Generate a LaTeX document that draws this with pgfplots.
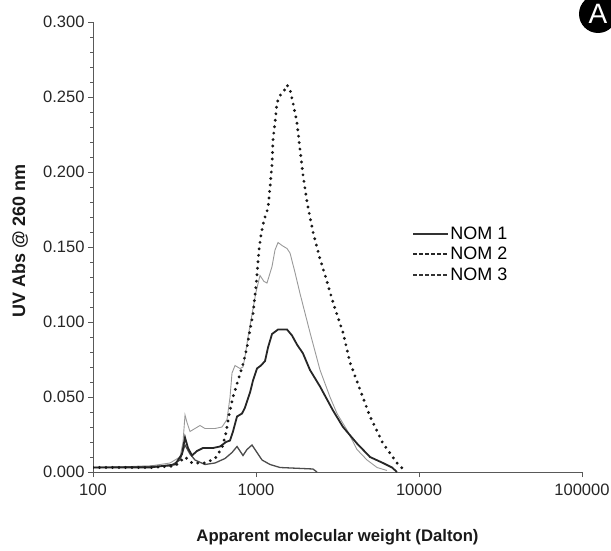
\documentclass[border=0pt]{standalone}
\usepackage{fontspec}
\setmainfont{Liberation Sans}
\usepackage{pgfplots}
\pgfplotsset{compat=1.18}
\begin{document}
\begin{tikzpicture}[x=1pt,y=1pt]
\path[use as bounding box] (0,0) rectangle (611,550);
\begin{axis}[
  at={(93pt,78pt)}, anchor=south west, scale only axis,
  width=489pt, height=450pt,
  xmode=log, xmin=100, xmax=100000, ymin=0, ymax=0.3,
  axis x line=bottom, axis y line=left,
  axis line style={black!65, line width=0.9pt, -},
  xtick={100,1000,10000,100000}, xticklabels={100,1000,10000,100000},
  xminorticks=false,
  ytick={0,0.05,0.1,0.15,0.2,0.25,0.3},
  minor y tick num=4,
  scaled y ticks=false,
  yticklabel style={/pgf/number format/.cd, fixed, fixed zerofill, precision=3},
  xticklabel style={yshift=-3pt},
  /pgf/number format/assume math mode=true,
  tick align=outside, major tick length=5pt, minor tick length=3pt,
  tick style={black!65, line width=0.8pt},
  ticklabel style={font=\fontsize{16.5}{19}\selectfont, text=black!85},
  legend style={at={(0.653,0.548)}, anchor=north west, draw=none, fill=none,
    font=\fontsize{18}{21}\selectfont, row sep=4.5pt, inner sep=0pt,
    nodes={inner sep=1pt}},
  legend cell align=left,
  legend image code/.code={\draw[#1] (0pt,0pt) -- (35pt,0pt);},
]
\addlegendimage{black!80, line width=1.8pt}
\addlegendentry{NOM 1}
\addlegendimage{black!85, line width=1.9pt, dash pattern=on 3.5pt off 2.5pt}
\addlegendentry{NOM 2}
\addlegendimage{black!80, line width=1.6pt, dash pattern=on 4pt off 2pt}
\addlegendentry{NOM 3}
% gray curve
\addplot[forget plot, black!40, line width=0.9pt] coordinates {
(100,0.003) (223.7,0.004) (296.8,0.006) (341.9,0.010) (356.7,0.020) (366.9,0.038)
(377.3,0.033) (393.6,0.027) (422.4,0.029) (453.3,0.031) (486.6,0.029) (560.5,0.029)
(618.6,0.030) (664,0.035) (692.9,0.050) (712.6,0.066) (743.6,0.071) (798,0.069)
(832.4,0.070) (856.4,0.077) (892.9,0.090) (945,0.105) (1000,0.120) (1058,0.131)
(1120,0.127) (1168,0.126) (1254,0.137) (1308,0.148) (1365,0.153) (1444,0.151)
(1550,0.149) (1617,0.146) (1735,0.133) (1862,0.119) (1998,0.106) (2144,0.093)
(2470,0.068) (2844,0.050) (3140,0.039) (3616,0.028) (4165,0.015) (4797,0.008)
(5525,0.003) (6363,0.001)
};
% small curve
\addplot[forget plot, black!70, line width=1.3pt] coordinates {
(100,0.003) (296.8,0.004) (341.9,0.008) (366.9,0.018) (393.6,0.012) (422.4,0.008)
(486.6,0.005) (560.5,0.006) (645.6,0.009) (712.6,0.013) (764.9,0.017) (832.4,0.011)
(880.8,0.015) (945,0.018) (1000,0.014) (1089,0.008) (1219,0.005) (1404,0.003)
(2237,0.002) (2367,0.000)
};
% thick dark curve
\addplot[forget plot, black!85, line width=1.8pt] coordinates {
(100,0.003) (223.7,0.003) (318.5,0.005) (351.6,0.012) (366.9,0.023) (382.7,0.016)
(405,0.011) (434.5,0.014) (473,0.016) (544.8,0.016) (601.6,0.017) (654.6,0.020)
(692.9,0.021) (722.4,0.027) (764.9,0.037) (820.5,0.039) (856.4,0.043) (919.1,0.053)
(958.5,0.061) (1014,0.069) (1073,0.071) (1136,0.074) (1185,0.083) (1254,0.092)
(1365,0.095) (1550,0.095) (1663,0.091) (1784,0.085) (1943,0.079) (2144,0.068)
(2470,0.057) (2968,0.041) (3418,0.030) (4165,0.019) (5005,0.010) (6013,0.006)
(6830,0.003) (7328,0.000)
};
% dotted curve
\addplot[forget plot, black!90, line width=3.2pt, line cap=round, dash pattern=on 0pt off 6.5pt] coordinates {
(100,0.003) (223.7,0.003) (318.5,0.004) (366.9,0.010) (405,0.006) (486.6,0.006)
(560.5,0.009) (618.6,0.016) (654.6,0.026) (683,0.038) (722.4,0.050) (775.9,0.061)
(832.4,0.072) (880.8,0.083) (919.1,0.095) (958.5,0.105) (986.4,0.118) (1014,0.131)
(1043,0.148) (1073,0.158) (1120,0.168) (1185,0.176) (1219,0.190) (1254,0.205)
(1272,0.222) (1308,0.233) (1345,0.246) (1404,0.251) (1485,0.254) (1550,0.258)
(1617,0.255) (1687,0.246) (1784,0.233) (1862,0.215) (1943,0.198) (2055,0.180)
(2144,0.170) (2237,0.160) (2470,0.142) (2727,0.127) (2968,0.113) (3418,0.093)
(3773,0.073) (4345,0.055) (5005,0.037) (6013,0.019) (7328,0.006) (8323,0.000)
};
\end{axis}
\node[font=\bfseries\fontsize{16.7}{19}\selectfont, text=black!90] at (337.5,13) {Apparent molecular weight (Dalton)};
\node[font=\bfseries\fontsize{18}{21}\selectfont, text=black!90, rotate=90] at (20,309) {UV Abs @ 260 nm};
\node[circle, fill=black, minimum size=38pt, inner sep=0pt, text=white, font=\fontsize{28}{30}\selectfont] at (598,536) {A};
\end{tikzpicture}
\end{document}
